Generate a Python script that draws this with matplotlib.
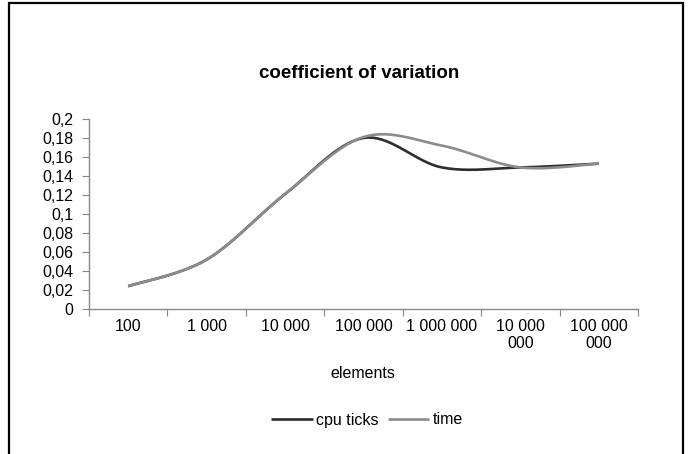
import numpy as np
import matplotlib
matplotlib.use("Agg")
import matplotlib.pyplot as plt
from matplotlib.patches import Rectangle

categories = ["100", "1 000", "10 000", "100 000", "1 000 000", "10 000\n000", "100 000\n000"]
cpu_ticks = [0.024, 0.052, 0.121, 0.180, 0.149, 0.149, 0.153]
time_vals = [0.024, 0.052, 0.121, 0.181, 0.172, 0.149, 0.153]
yticks = [0, 0.02, 0.04, 0.06, 0.08, 0.1, 0.12, 0.14, 0.16, 0.18, 0.2]
ytick_labels = ["0", "0,02", "0,04", "0,06", "0,08", "0,1", "0,12", "0,14", "0,16", "0,18", "0,2"]

plt.rcParams['font.family'] = ['Liberation Sans', 'DejaVu Sans']


def smooth(xs, ys, n=40):
    xs = np.asarray(xs, float)
    ys = np.asarray(ys, float)
    px = np.concatenate([[xs[0]], xs, [xs[-1]]])
    py = np.concatenate([[ys[0]], ys, [ys[-1]]])
    ox, oy = [], []
    t = np.linspace(0, 1, n)
    for i in range(1, len(px) - 2):
        p0 = np.array([px[i], py[i]])
        p3 = np.array([px[i + 1], py[i + 1]])
        m0 = (np.array([px[i + 1], py[i + 1]]) - np.array([px[i - 1], py[i - 1]])) / 6
        m1 = (np.array([px[i + 2], py[i + 2]]) - np.array([px[i], py[i]])) / 6
        p1 = p0 + m0
        p2 = p3 - m1
        b = ((1 - t) ** 3)[:, None] * p0 + (3 * (1 - t) ** 2 * t)[:, None] * p1 \
            + (3 * (1 - t) * t ** 2)[:, None] * p2 + (t ** 3)[:, None] * p3
        ox.extend(b[:, 0]); oy.extend(b[:, 1])
    return np.array(ox), np.array(oy)


fig = plt.figure(figsize=(6.88, 4.54), dpi=100)
W, H = 688, 454
ax = fig.add_axes([89 / W, 1 - 309 / H, (638 - 89) / W, (309 - 119) / H])

x = np.arange(len(categories))
cx, cy = smooth(x, cpu_ticks)
tx, ty = smooth(x, time_vals)
ax.plot(cx, cy, color="#2e2e2e", lw=1.9, label="cpu ticks", solid_capstyle="butt")
ax.plot(tx, ty, color="#8c8c8c", lw=1.9, label="time", solid_capstyle="butt")

fs = 11.5
ax.set_xlim(-0.5, len(categories) - 0.5)
ax.set_ylim(0, 0.2)
ax.set_yticks(yticks, labels=ytick_labels)
ax.set_xticks(np.arange(-0.5, len(categories)), labels=[])
ax.set_xticks(x, labels=categories, minor=True)
ax.tick_params(axis="x", which="minor", length=0, pad=7, labelsize=fs)
ax.tick_params(axis="x", which="major", length=5, direction="out", color="#868686")
ax.tick_params(axis="y", length=5, direction="out", color="#868686", labelsize=fs, pad=6)
for lab in ax.get_xticklabels(minor=True):
    lab.set_horizontalalignment("center")
    lab.set_linespacing(1.15)
for s in ["top", "right"]:
    ax.spines[s].set_visible(False)
for s in ["left", "bottom"]:
    ax.spines[s].set_color("#868686")
    ax.spines[s].set_linewidth(1.0)

fig.text(359 / W, 1 - 73 / H, "coefficient of variation", ha="center", va="center",
         fontsize=13.5, fontweight="bold")
fig.text(363 / W, 1 - 374 / H, "elements", ha="center", va="center", fontsize=fs)

ax.legend(loc="center", bbox_to_anchor=(367 / W, 1 - 420 / H), bbox_transform=fig.transFigure,
          ncol=2, frameon=False, fontsize=fs, handlelength=2.6, handletextpad=0.2,
          columnspacing=0.6, borderpad=0, borderaxespad=0)

fig.patches.append(Rectangle((9 / W, -0.05), (683 - 9) / W, 1 - 3 / H + 0.05,
                             transform=fig.transFigure, fill=False, edgecolor="black",
                             lw=1.6, zorder=10))

fig.savefig("out.png", dpi=100)
